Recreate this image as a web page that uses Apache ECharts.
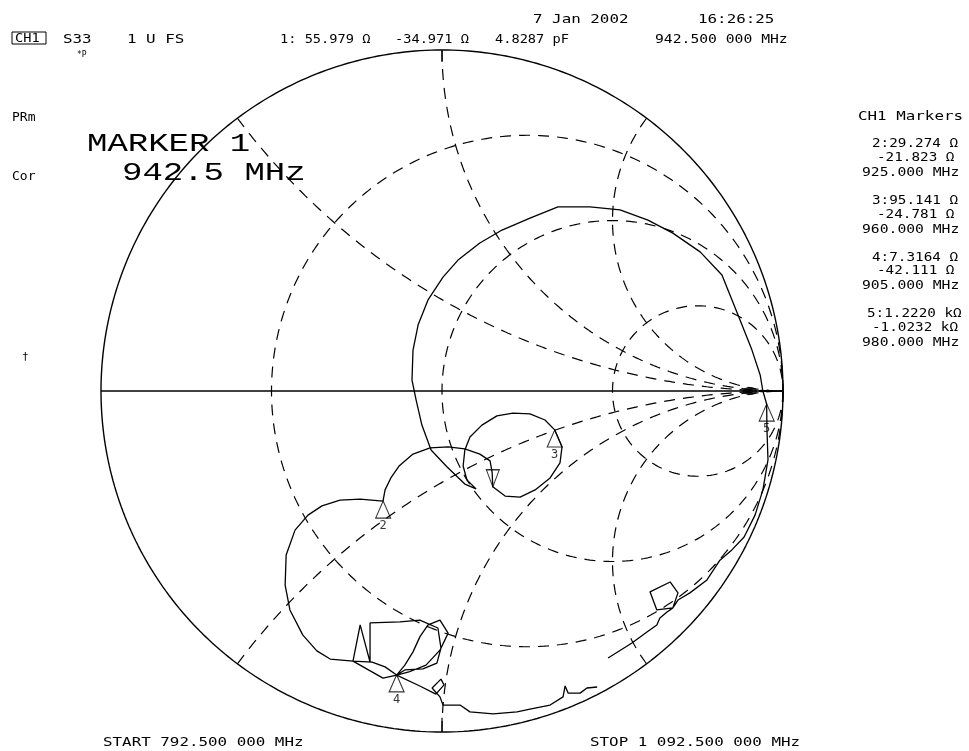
<!DOCTYPE html>
<html><head><meta charset="utf-8">
<script src="https://cdn.jsdelivr.net/npm/echarts@6.0.0/dist/echarts.min.js"></script>
<style>html,body{margin:0;padding:0;background:#fff;}#c{width:969px;height:751px;}</style>
</head><body><div id="c"></div>
<script>
// ---- Smith chart graticule values (normalised) ----
const resistanceCircles = [1/3, 1, 3];
const reactanceArcs = [0.5, 1, 2, -0.5, -1, -2];

const traceRe = [0.455,0.425,0.405,0.370,0.361,0.355,0.317,0.258,0.220,0.150,0.082,0.053,0.003,
 -0.006,-0.029,-0.003,0.006,-0.018,-0.065,-0.133,-0.109,-0.085,-0.065,-0.041,-0.006,0.018,-0.006,-0.047,-0.097,-0.133,
 -0.109,-0.056,-0.015,-0.003,-0.012,-0.065,-0.123,-0.211,-0.211,-0.240,-0.261,-0.205,-0.167,-0.133,-0.173,-0.261,
 -0.328,-0.367,-0.408,-0.446,-0.460,-0.457,-0.431,-0.393,-0.352,-0.299,-0.240,-0.173,
 -0.167,-0.150,-0.126,-0.085,-0.035,0.018,0.067,0.111,0.141,0.147,0.149,
 0.185,0.229,0.273,0.317,0.346,0.352,0.3305,0.302,0.258,0.208,0.161,0.117,0.082,0.067,0.062,0.073,0.100,
 0.067,0.015,-0.032,-0.059,-0.076,-0.088,-0.085,-0.070,-0.041,0.003,0.047,0.111,0.176,0.258,0.340,0.434,0.522,0.604,0.677,
 0.757,0.821,0.874,0.909,0.933,0.941,0.952,0.953,0.956,0.941,0.918,0.886,0.850,0.815,0.777,0.727,0.692,0.677,0.630,
 0.610,0.669,0.692,0.677,0.660,0.639,0.630,0.601,0.557,0.487];
const traceIm = [-0.868,-0.871,-0.886,-0.886,-0.865,-0.897,-0.921,-0.933,-0.941,-0.947,-0.941,-0.921,-0.921,
 -0.897,-0.871,-0.845,-0.862,-0.889,-0.865,-0.833,-0.804,-0.765,-0.721,-0.686,-0.672,-0.710,-0.760,-0.804,-0.824,-0.833,
 -0.818,-0.815,-0.798,-0.754,-0.695,-0.672,-0.677,-0.680,-0.795,-0.686,-0.792,-0.795,-0.809,-0.833,-0.842,-0.792,
 -0.786,-0.762,-0.716,-0.642,-0.569,-0.481,-0.408,-0.364,-0.337,-0.320,-0.317,-0.323,
 -0.290,-0.255,-0.220,-0.185,-0.167,-0.164,-0.170,-0.185,-0.205,-0.238,-0.281,
 -0.308,-0.311,-0.290,-0.255,-0.211,-0.164,-0.114,-0.085,-0.067,-0.065,-0.073,-0.100,-0.135,-0.173,-0.220,-0.261,-0.287,
 -0.273,-0.223,-0.173,-0.100,-0.026,0.032,0.120,0.194,0.267,0.334,0.384,0.434,0.472,0.507,0.540,0.540,0.531,0.501,0.463,
 0.408,0.340,0.208,0.120,0.047,0.000,-0.038,-0.114,-0.202,-0.290,-0.364,-0.428,-0.466,-0.496,-0.554,-0.592,-0.613,-0.636,-0.642,
 -0.589,-0.560,-0.592,-0.636,-0.648,-0.666,-0.686,-0.707,-0.739,-0.783];

// ---- Marker readouts (ohms), Z0 = 50 ----
const Z0 = 50;
const markerIds = ['1','2','3','4','5'];
const markerR = [55.979, 29.274, 95.141, 7.3164, 1222.0];
const markerX = [-34.971, -21.823, -24.781, -42.111, -1023.2];
const markerFreqText = ['942.500 000 MHz','925.000 MHz','960.000 MHz','905.000 MHz','980.000 MHz'];
const markerRText = ['55.979 Ω','29.274 Ω','95.141 Ω','7.3164 Ω','1.2220 kΩ'];
const markerXText = ['-34.971 Ω','-21.823 Ω','-24.781 Ω','-42.111 Ω','-1.0232 kΩ'];
// blob at the right of the real axis
const blobRe = [0.903];
const blobIm = [0.0];

function gamma(r, x) {
  const den = (r + 1) * (r + 1) + x * x;
  return [(r * r - 1 + x * x) / den, (2 * x) / den];
}
function rCircle(r) {
  const pts = [];
  for (let i = 0; i <= 400; i++) {
    const t = -Math.PI / 2 + Math.PI * i / 400;
    const x = (i === 0) ? -1e9 : (i === 400 ? 1e9 : Math.tan(t));
    pts.push(gamma(r, x));
  }
  return pts;
}
function xArc(x) {
  const pts = [];
  for (let i = 0; i <= 300; i++) {
    const t = (Math.PI / 2) * i / 300;
    const r = (i === 300) ? 1e9 : Math.tan(t);
    pts.push(gamma(r, x));
  }
  return pts;
}

const dash = [11, 8];
const series = [];
resistanceCircles.forEach(r => series.push({
  type: 'line', data: rCircle(r), showSymbol: false, silent: true, clip: false, z: 1,
  lineStyle: { color: '#000', width: 1.2, type: dash }
}));
reactanceArcs.forEach(x => series.push({
  type: 'line', data: xArc(x), showSymbol: false, silent: true, clip: false, z: 1,
  lineStyle: { color: '#000', width: 1.2, type: dash }
}));
// outer circle (r = 0) and real axis
series.push({ type: 'line', data: rCircle(0), showSymbol: false, silent: true, clip: false, z: 2,
  lineStyle: { color: '#000', width: 1.4 } });
series.push({ type: 'line', data: [[-1, 0], [1, 0]], showSymbol: false, silent: true, clip: false, z: 2,
  lineStyle: { color: '#000', width: 1.6 } });
// small ticks at top / bottom of the chart
series.push({ type: 'line', data: [[0, 1], [0, 0.965]], showSymbol: false, silent: true, clip: false,
  lineStyle: { color: '#000', width: 1.2 } });
series.push({ type: 'line', data: [[0, -1], [0, -0.958]], showSymbol: false, silent: true, clip: false,
  lineStyle: { color: '#000', width: 1.2 } });
// trace
series.push({ type: 'line', data: traceRe.map((v, i) => [v, traceIm[i]]), showSymbol: false, silent: true,
  clip: false, z: 3, lineStyle: { color: '#000', width: 1.3 } });
// markers
const mk = markerIds.map((id, i) => {
  const g = gamma(markerR[i] / Z0, markerX[i] / Z0);
  const active = i === 0;
  return {
    value: g, name: id,
    symbol: active ? 'path://M0,0L14,0L7,16Z' : 'triangle',
    symbolSize: active ? [13, 17] : [15, 17],
    symbolOffset: active ? [0, -8.5] : [0, 8.5],
    label: { show: !active, position: 'bottom', distance: 1, formatter: id,
      fontFamily: 'DejaVu Sans Mono', fontSize: 12, color: '#000' }
  };
});
series.push({ type: 'scatter', data: mk, silent: true, clip: false, z: 4,
  itemStyle: { color: 'rgba(0,0,0,0)', borderColor: '#000', borderWidth: 1.1 } });
series.push({ type: 'scatter', data: blobRe.map((v, i) => [v, blobIm[i]]), silent: true, clip: false, z: 4,
  symbol: 'circle', symbolSize: [15, 8], itemStyle: { color: '#000' } });

// ---- Text ----
const F = '13px "DejaVu Sans Mono"';
const BIG = '25px "Liberation Mono"';
const SX = 1.22;
function txt(x, y, s, opts) {
  opts = opts || {};
  return { type: 'text', x: x, y: y, scaleX: opts.sx || SX, scaleY: opts.sy || 1, silent: true,
    style: { text: s, font: opts.font || F, fill: '#000', textVerticalAlign: 'middle', verticalAlign: 'middle',
      textAlign: 'left', align: 'left' } };
}
const graphics = [
  { type: 'rect', shape: { x: 12, y: 32, width: 34, height: 12 }, silent: true,
    style: { stroke: '#000', fill: 'none', lineWidth: 1 } },
  txt(533, 20, '7 Jan 2002'), txt(698, 20, '16:26:25'),
  txt(15, 38.5, 'CH1', { sx: 1.05 }), txt(63, 40, 'S33'), txt(127, 40, '1 U FS'),
  txt(280, 40, '1: ' + markerRText[0], { sx: 1.05 }), txt(395, 40, markerXText[0], { sx: 1.05 }),
  txt(495, 40, '4.8287 pF', { sx: 1.05 }), txt(655, 40, markerFreqText[0], { sx: 1.13 }),
  txt(77, 55, '*P', { font: '8px "DejaVu Sans Mono"', sx: 1 }),
  txt(12, 118, 'PRm', { sx: 1.0 }), txt(12, 177, 'Cor', { sx: 1.0 }),
  txt(87, 144, 'MARKER 1', { font: BIG, sx: 1.36 }),
  txt(122, 173, '942.5 MHz', { font: BIG, sx: 1.36 }),
  txt(22, 357, '†', { font: '11px "DejaVu Sans Mono"', sx: 1 }),
  txt(858, 117, 'CH1 Markers'),
  txt(103, 743, 'START 792.500 000 MHz'), txt(590, 743, 'STOP 1 092.500 000 MHz')
];
const colY = [144, 201, 257.5, 314];
[1, 2, 3, 4].forEach((m, k) => {
  const y0 = colY[k];
  graphics.push(txt(m === 4 ? 867 : 872, y0, markerIds[m] + ':' + markerRText[m], { sx: 1.1 }));
  graphics.push(txt(m === 4 ? 872 : 877, y0 + 13.5, markerXText[m], { sx: 1.1 }));
  graphics.push(txt(862, y0 + 28.5, markerFreqText[m], { sx: 1.13 }));
});

const chart = echarts.init(document.getElementById('c'), null, { renderer: 'canvas' });
chart.setOption({
  animation: false,
  backgroundColor: '#fff',
  grid: { left: 101, top: 50, width: 682, height: 682, containLabel: false },
  xAxis: { type: 'value', min: -1, max: 1, show: false },
  yAxis: { type: 'value', min: -1, max: 1, show: false },
  series: series,
  graphic: graphics
});
</script>
</body></html>
